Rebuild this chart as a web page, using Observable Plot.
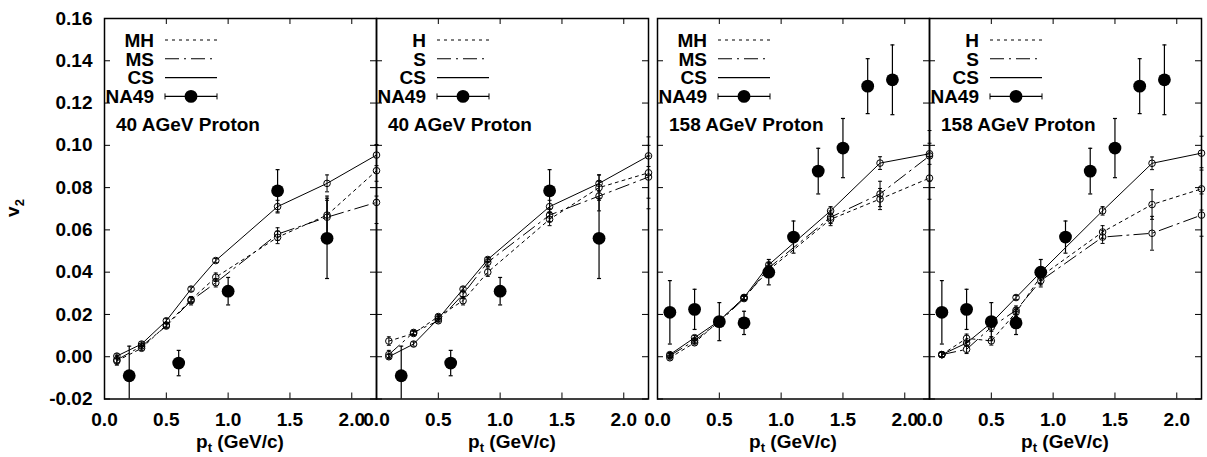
<!DOCTYPE html>
<html><head><meta charset="utf-8">
<script src="https://cdn.jsdelivr.net/npm/d3@7"></script>
<script src="https://cdn.jsdelivr.net/npm/@observablehq/plot@0.6"></script>
<style>
html,body{margin:0;padding:0;background:#fff;}
#chart{position:relative;width:1207px;height:457px;overflow:hidden;}
#chart svg{position:absolute;top:0;}
</style>
</head><body><div id="chart"></div>
<script>
// ---------- data ----------
const xTicks = [0, 0.5, 1.0, 1.5, 2.0];
const yTicks = [-0.02, 0, 0.02, 0.04, 0.06, 0.08, 0.10, 0.12, 0.14, 0.16];
const ptModel = [0.1, 0.3, 0.5, 0.7, 0.9, 1.4, 1.8, 2.2];

// NA49 proton data
const naPt40 = [0.2, 0.6, 1.0, 1.4, 1.8];
const naV40 = [-0.009, -0.003, 0.031, 0.0785, 0.056];
const naE40 = [0.014, 0.006, 0.0065, 0.010, 0.019];
const naPt158 = [0.1, 0.3, 0.5, 0.7, 0.9, 1.1, 1.3, 1.5, 1.7, 1.9];
const naV158 = [0.021, 0.0224, 0.0166, 0.016, 0.040, 0.0566, 0.0878, 0.0987, 0.128, 0.131];
const naE158 = [0.015, 0.0095, 0.009, 0.0055, 0.006, 0.0076, 0.0108, 0.014, 0.013, 0.0165];

// panel 1: 40 AGeV, MH / MS / CS
const mh40 = [-0.002, 0.004, 0.015, 0.027, 0.0376, 0.0565, 0.067, 0.088];
const mhErr40 = [0.002, 0.001, 0.001, 0.001, 0.002, 0.003, 0.009, 0.012];
const ms40 = [-0.0015, 0.005, 0.0145, 0.0265, 0.035, 0.058, 0.066, 0.073];
const msErr40 = [0.002, 0.001, 0.001, 0.002, 0.002, 0.003, 0.008, 0.010];
const csA40 = [0.0003, 0.006, 0.017, 0.032, 0.0455, 0.071, 0.082, 0.0954];
const csAErr40 = [0.001, 0.001, 0.001, 0.001, 0.001, 0.003, 0.004, 0.005];

// panel 2: 40 AGeV, H / S / CS
const h40 = [0.0074, 0.011, 0.019, 0.0265, 0.040, 0.065, 0.080, 0.087];
const hErr40 = [0.002, 0.001, 0.001, 0.002, 0.002, 0.003, 0.006, 0.017];
const s40 = [0.001, 0.0115, 0.017, 0.0295, 0.0447, 0.067, 0.076, 0.085];
const sErr40 = [0.002, 0.001, 0.001, 0.002, 0.002, 0.003, 0.007, 0.010];
const csB40 = [0.0, 0.006, 0.018, 0.032, 0.046, 0.071, 0.082, 0.095];
const csBErr40 = [0.001, 0.001, 0.001, 0.001, 0.001, 0.003, 0.004, 0.005];

// panel 3: 158 AGeV, MH / MS / CS
const mh158 = [-0.0005, 0.0066, 0.017, 0.028, 0.041, 0.065, 0.0746, 0.0845];
const mhErr158 = [0.001, 0.001, 0.001, 0.001, 0.002, 0.003, 0.005, 0.010];
const ms158 = [0.0005, 0.0076, 0.0165, 0.0275, 0.042, 0.066, 0.077, 0.095];
const msErr158 = [0.001, 0.001, 0.001, 0.001, 0.002, 0.003, 0.006, 0.012];
const csA158 = [0.001, 0.009, 0.017, 0.028, 0.0435, 0.069, 0.0916, 0.096];
const csAErr158 = [0.001, 0.001, 0.001, 0.001, 0.001, 0.002, 0.003, 0.005];

// panel 4: 158 AGeV, H / S / CS
const h158 = [0.001, 0.0087, 0.0075, 0.021, 0.038, 0.059, 0.072, 0.0794];
const hErr158 = [0.001, 0.002, 0.002, 0.002, 0.002, 0.003, 0.007, 0.010];
const s158 = [0.001, 0.0035, 0.014, 0.022, 0.036, 0.0566, 0.0584, 0.067];
const sErr158 = [0.001, 0.002, 0.002, 0.002, 0.003, 0.003, 0.008, 0.010];
const csB158 = [0.001, 0.0065, 0.016, 0.028, 0.040, 0.069, 0.0915, 0.0963];
const csBErr158 = [0.001, 0.001, 0.001, 0.001, 0.001, 0.002, 0.003, 0.008];

const legendM = ["MH", "MS", "CS", "NA49"];
const legendH = ["H", "S", "CS", "NA49"];
const title40 = "40 AGeV Proton";
const title158 = "158 AGeV Proton";
const yLabel = ["v", "2"];
const xLabel = ["p", "t", " (GeV/c)"];

// ---------- styling ----------
const FONT = "'Liberation Sans', Arial, Helvetica, sans-serif";
const FS = "19px";
const DOTTED = "3,4";
const DASHDOT = "14,5,2,5";
const dashes = [DOTTED, DASHDOT, null];

const TOP = 18, BOTTOM = 398.5, H = 457, PW = 272;
const panelLefts = [104, 376, 657, 929];

const cap = {draw(ctx, size) { const w = Math.sqrt(size / Math.PI); ctx.moveTo(-w, 0); ctx.lineTo(w, 0); }};

const panels = [
  {series: [[mh40, mhErr40], [ms40, msErr40], [csA40, csAErr40]], naPt: naPt40, naV: naV40, naE: naE40, legend: legendM, title: title40},
  {series: [[h40, hErr40], [s40, sErr40], [csB40, csBErr40]], naPt: naPt40, naV: naV40, naE: naE40, legend: legendH, title: title40},
  {series: [[mh158, mhErr158], [ms158, msErr158], [csA158, csAErr158]], naPt: naPt158, naV: naV158, naE: naE158, legend: legendM, title: title158},
  {series: [[h158, hErr158], [s158, sErr158], [csB158, csBErr158]], naPt: naPt158, naV: naV158, naE: naE158, legend: legendH, title: title158}
];

const chart = document.getElementById("chart");

panels.forEach((p, idx) => {
  const first = idx === 0;
  const ml = first ? panelLefts[0] : 40;
  const mr = 40;
  const FH = BOTTOM - TOP;
  const marks = [];
  p.series.forEach(([vals, errs], si) => {
    const data = ptModel.map((pt, i) => ({pt, v: vals[i], e: errs[i]}));
    marks.push(
      Plot.ruleX(data, {x: "pt", y1: d => d.v - d.e, y2: d => d.v + d.e, stroke: "black", strokeWidth: 1}),
      Plot.dot(data, {x: "pt", y: d => d.v - d.e, symbol: cap, r: 2, stroke: "black", strokeWidth: 1}),
      Plot.dot(data, {x: "pt", y: d => d.v + d.e, symbol: cap, r: 2, stroke: "black", strokeWidth: 1}),
      Plot.line(data, {x: "pt", y: "v", stroke: "black", strokeWidth: 1, strokeDasharray: dashes[si]}),
      Plot.dot(data, {x: "pt", y: "v", r: 3.3, stroke: "black", fill: "none", strokeWidth: 1})
    );
  });
  const na = p.naPt.map((pt, i) => ({pt, v: p.naV[i], e: p.naE[i]}));
  marks.push(
    Plot.ruleX(na, {x: "pt", y1: d => d.v - d.e, y2: d => d.v + d.e, stroke: "black", strokeWidth: 1.2, clip: true}),
    Plot.dot(na.filter(d => d.v - d.e > -0.02), {x: "pt", y: d => d.v - d.e, symbol: cap, r: 2, stroke: "black", strokeWidth: 1.2}),
    Plot.dot(na, {x: "pt", y: d => d.v + d.e, symbol: cap, r: 2, stroke: "black", strokeWidth: 1.2}),
    Plot.dot(na, {x: "pt", y: "v", r: 6.4, fill: "black", stroke: "none"})
  );
  marks.push(
    Plot.tickX(xTicks, {x: d => d, insetTop: FH - 6, stroke: "black", strokeWidth: 1}),
    Plot.tickX(xTicks, {x: d => d, insetBottom: FH - 6, stroke: "black", strokeWidth: 1}),
    Plot.tickY(yTicks, {y: d => d, insetRight: PW - 6, stroke: "black", strokeWidth: 1}),
    Plot.tickY(yTicks, {y: d => d, insetLeft: PW - 6, stroke: "black", strokeWidth: 1}),
    Plot.frame({stroke: "black", strokeWidth: 1.5}),
    Plot.axisX(xTicks, {tickSize: 0, tickPadding: 13, tickFormat: d => d.toFixed(1), label: null})
  );
  if (first) marks.push(Plot.axisY(yTicks, {tickSize: 0, tickPadding: 12, tickFormat: d => d.toFixed(2), label: null}));

  const plot = Plot.plot({
    width: ml + PW + mr,
    height: H,
    marginLeft: ml, marginRight: mr, marginTop: TOP, marginBottom: H - BOTTOM,
    x: {domain: [0, 2.2]},
    y: first ? {domain: [-0.02, 0.16]} : {domain: [-0.02, 0.16], axis: null},
    style: {fontFamily: FONT, fontWeight: "bold", fontSize: FS, overflow: "visible", background: "transparent", color: "black"},
    marks
  });
  plot.style.left = (panelLefts[idx] - ml) + "px";
  chart.appendChild(plot);
});

// ---------- overlay: legends, titles, axis labels ----------
const svg = d3.select(chart).append("svg")
  .attr("width", 1207).attr("height", 457).style("left", "0px")
  .style("font-family", FONT).style("font-weight", "bold").style("font-size", FS);

panels.forEach((p, idx) => {
  const L = panelLefts[idx];
  const g = svg.append("g");
  p.legend.forEach((lab, i) => {
    const y = 40 + i * 18.8;
    g.append("text").attr("x", L + 50).attr("y", y).attr("dy", "0.36em").attr("text-anchor", "end").text(lab);
    g.append("line").attr("x1", L + 61).attr("x2", L + 113).attr("y1", y).attr("y2", y)
      .attr("stroke", "black").attr("stroke-width", 1.1)
      .attr("stroke-dasharray", i < 3 ? dashes[i] : null);
    if (i === 3) {
      g.append("line").attr("x1", L + 61).attr("x2", L + 61).attr("y1", y - 3).attr("y2", y + 3).attr("stroke", "black");
      g.append("line").attr("x1", L + 113).attr("x2", L + 113).attr("y1", y - 3).attr("y2", y + 3).attr("stroke", "black");
      g.append("circle").attr("cx", L + 87).attr("cy", y).attr("r", 6.4).attr("fill", "black");
    }
  });
  g.append("text").attr("x", L + 12).attr("y", 124).attr("dy", "0.36em").text(p.title);
  const t = g.append("text").attr("x", L + PW / 2).attr("y", 448).attr("text-anchor", "middle");
  t.append("tspan").text(xLabel[0]);
  t.append("tspan").attr("dy", 4).style("font-size", "13px").text(xLabel[1]);
  t.append("tspan").attr("dy", -4).text(xLabel[2]);
});

const yl = svg.append("text").attr("transform", "translate(18.5,208) rotate(-90)").attr("text-anchor", "middle");
yl.append("tspan").text(yLabel[0]);
yl.append("tspan").attr("dy", 5).style("font-size", "13px").text(yLabel[1]);
</script>
</body></html>
